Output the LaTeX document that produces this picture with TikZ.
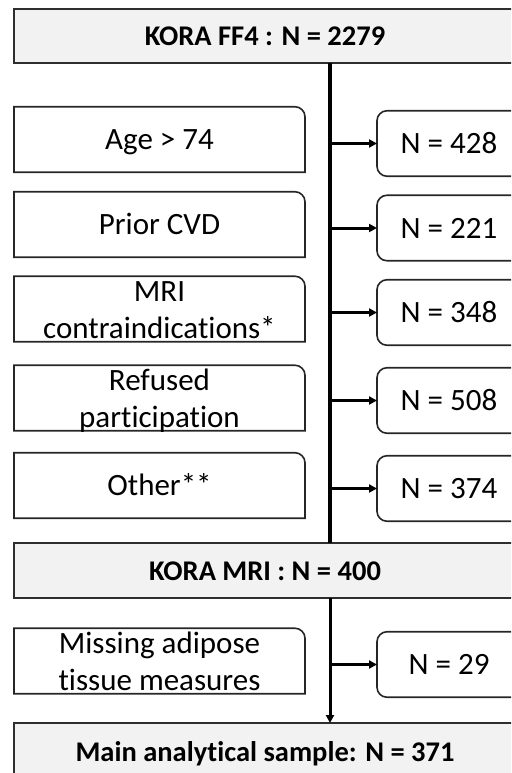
\documentclass[tikz,border=0pt]{standalone}
\usepackage{fontspec}
\setmainfont{Carlito}[Ligatures={NoCommon}]
\usetikzlibrary{arrows.meta}
\newcommand\lboxoutline[1]{%
  \draw[lline] (#1.south west) -- (#1.north west) -- ([xshift=-10pt]#1.north east)
    .. controls ([xshift=-4.5pt]#1.north east) and ([yshift=-4.5pt]#1.north east) ..
    ([yshift=-10pt]#1.north east) -- (#1.south east) -- cycle;}
\begin{document}
\begin{tikzpicture}[x=1pt,y=-1pt,
  bigbox/.style={draw=black!82, line width=2pt, fill=black!5, minimum width=502pt,
    inner sep=0pt, outer sep=0pt, font=\fontsize{28.5}{34}\selectfont\bfseries,
    text height=19pt, text depth=0pt},
  lbox/.style={minimum width=291pt, minimum height=65.5pt, inner sep=0pt, outer sep=0pt,
    font=\fontsize{31}{37}\selectfont, text height=20pt, text depth=0pt},
  lline/.style={draw=black!85, line width=1.6pt},
  ltext/.style={font=\fontsize{31}{37}\selectfont, align=center, inner sep=0pt},
  rbox/.style={draw=black!85, line width=1.6pt, rounded corners=10pt, minimum width=144pt,
    minimum height=65.5pt, inner sep=0pt, outer sep=0pt,
    font=\fontsize{31}{37}\selectfont, text height=20pt, text depth=0pt},
  spine/.style={line width=3.4pt, black},
  arr/.style={line width=3pt, black, -{Triangle[length=8pt,width=8pt]}}
]
\useasboundingbox (0,0) rectangle (511,773);
\clip (0,0) rectangle (511,773);
\coordinate (sp) at (330,0);

% big boxes
\node[bigbox, minimum height=54pt] (top) at (265,36) {KORA FF4 : N = 2279};
\node[bigbox, minimum height=55pt] (mri) at (265,570.5) {KORA MRI : N = 400};
\node[bigbox, minimum height=58pt] (main) at (265,752) {Main analytical sample: N = 371};

% left boxes
\node[lbox] (age) at (159.5,139.5) {Age > 74};
\node[lbox] (cvd) at (159.5,224.5) {Prior CVD};
\node[lbox] (contra) at (159.5,309) {};
\node[lbox] (refused) at (159.5,398) {};
\node[lbox] (other) at (159.5,485.5) {Other**};
\node[lbox] (missing) at (159.5,661) {};
\lboxoutline{age}
\lboxoutline{cvd}
\lboxoutline{contra}
\lboxoutline{refused}
\lboxoutline{other}
\lboxoutline{missing}
\node[ltext, anchor=base] (tcontra) at (159.5,338) {MRI\\contraindications*};
\node[ltext, anchor=base] (trefused) at (159.5,427) {Refused\\participation};
\node[ltext, anchor=base] (tmissing) at (159.5,690) {Missing adipose\\tissue measures};

% right boxes
\node[rbox] (r1) at (449,143.5) {N = 428};
\node[rbox] (r2) at (449,228) {N = 221};
\node[rbox] (r3) at (449,312.5) {N = 348};
\node[rbox] (r4) at (449,400.5) {N = 508};
\node[rbox] (r5) at (449,488.5) {N = 374};
\node[rbox] (r6) at (449,664.5) {N = 29};

% connectors
\draw[spine] (top.south -| sp) -- (mri.north -| sp);
\draw[arr] (mri.south -| sp) -- (main.north -| sp);
\foreach \r in {r1,r2,r3,r4,r5,r6}
  \draw[arr] (\r.west -| sp) -- (\r.west);
\end{tikzpicture}
\end{document}
